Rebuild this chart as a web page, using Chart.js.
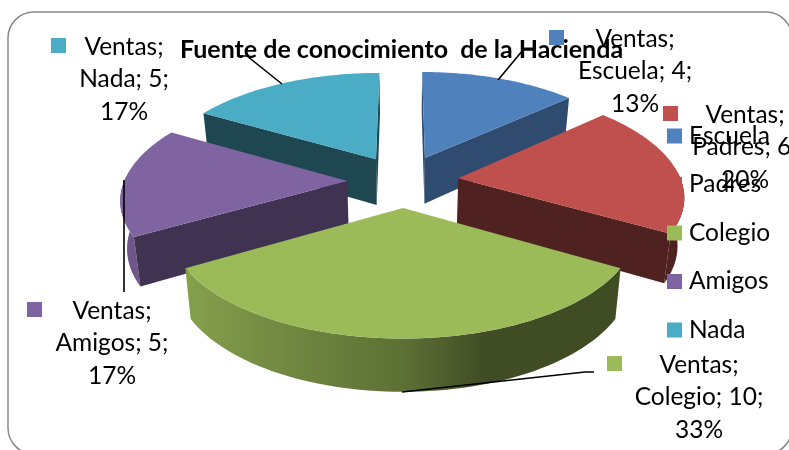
<!DOCTYPE html>
<html>
<head>
<meta charset="utf-8">
<title>Fuente de conocimiento de la Hacienda</title>
<script src="https://cdn.jsdelivr.net/npm/chart.js@4"></script>
<style>
  html, body { margin: 0; padding: 0; background: #fff; overflow: hidden; }
  canvas { display: block; }
</style>
</head>
<body>
<canvas id="chart" width="789" height="450"></canvas>
<script>
const seriesName = "Ventas";
const chartTitle = "Fuente de conocimiento  de la Hacienda";
const categories = ["Escuela", "Padres", "Colegio", "Amigos", "Nada"];
const values = [4, 6, 10, 5, 5];
const colors = ["#4F81BD", "#C0504D", "#9BBB59", "#8064A2", "#4BACC6"];
const wallShade = [0.59, 0.41, 0.41, 0.5, 0.41];

const FONT = "Lato, Carlito, sans-serif";

// projection of the pie disc onto the page (Excel style perspective)
const view = { cx: 403, cy: 181, ax: 223, ay: 104, kx: 0.15, ky: 0.14, explode: 0.25 };

function project(u, v) {
  return {
    x: view.cx + view.ax * u / (1 - view.kx * v),
    y: view.cy + view.ay * v / (1 - view.ky * v)
  };
}

// same point on the bottom of the slab
function drop(p, v) {
  return { x: view.cx + (p.x - view.cx) * 0.976, y: p.y + 47 + 5 * v };
}

function shade(hex, f) {
  const n = parseInt(hex.slice(1), 16);
  const c = [n >> 16, (n >> 8) & 255, n & 255].map(function (a) { return Math.round(a * f); });
  return "rgb(" + c.join(",") + ")";
}

// outer wall is lit from the left
function wallLight(u) {
  if (u < -0.87) return 0.86;
  if (u < 0) return 0.86 - (u + 0.87) / 0.87 * 0.26;
  if (u < 0.3) return 0.6 - u / 0.3 * 0.19;
  return 0.41;
}

function quad(ctx, a, b, c, d, color) {
  ctx.fillStyle = color;
  ctx.beginPath();
  ctx.moveTo(a.x, a.y);
  ctx.lineTo(b.x, b.y);
  ctx.lineTo(c.x, c.y);
  ctx.lineTo(d.x, d.y);
  ctx.closePath();
  ctx.fill();
}

function drawSlice(ctx, arc, i) {
  const color = colors[i];
  // chart.js angles start at 3 o'clock, ours are clockwise from the top
  const a0 = arc.startAngle + Math.PI / 2;
  const a1 = arc.endAngle + Math.PI / 2;
  const mid = (a0 + a1) / 2;
  const ou = view.explode * Math.sin(mid);
  const ov = -view.explode * Math.cos(mid);
  const steps = 64;
  const rim = [];
  for (let s = 0; s <= steps; s++) {
    const t = a0 + (a1 - a0) * s / steps;
    const r = { u: ou + Math.sin(t), v: ov - Math.cos(t), nu: Math.sin(t), nv: -Math.cos(t) };
    r.p = project(r.u, r.v);
    r.b = drop(r.p, r.v);
    rim.push(r);
  }
  const pApex = project(ou, ov);
  const bApex = drop(pApex, ov);

  // curved outer wall, one polygon so the gradient has no seams
  const front = rim.filter(function (r) { return r.nv >= -0.05; });
  if (front.length > 1) {
    const xs = front.map(function (r) { return r.p.x; });
    const x0 = Math.min.apply(null, xs), x1 = Math.max.apply(null, xs);
    const grad = ctx.createLinearGradient(x0, 0, x1, 0);
    front.forEach(function (r) {
      grad.addColorStop((r.p.x - x0) / (x1 - x0), shade(color, wallLight(r.nu)));
    });
    ctx.fillStyle = grad;
    ctx.beginPath();
    front.forEach(function (r, n) { n ? ctx.lineTo(r.p.x, r.p.y) : ctx.moveTo(r.p.x, r.p.y); });
    front.slice().reverse().forEach(function (r) { ctx.lineTo(r.b.x, r.b.y); });
    ctx.closePath();
    ctx.fill();
  }

  // flat cut walls, only the ones facing the viewer
  const first = rim[0], last = rim[steps];
  if (-Math.sin(a0) > -0.01) quad(ctx, pApex, first.p, first.b, bApex, shade(color, wallShade[i]));
  if (Math.sin(a1) > -0.01) quad(ctx, pApex, last.p, last.b, bApex, shade(color, wallShade[i]));

  ctx.fillStyle = color;
  ctx.beginPath();
  ctx.moveTo(pApex.x, pApex.y);
  rim.forEach(function (r) { ctx.lineTo(r.p.x, r.p.y); });
  ctx.closePath();
  ctx.fill();
}

const pie3d = {
  id: "pie3d",
  beforeDraw(chart) {
    const ctx = chart.ctx;
    ctx.save();
    ctx.strokeStyle = "#8a8a8a";
    ctx.lineWidth = 1.5;
    ctx.beginPath();
    ctx.roundRect(8, 12, 784, 442, 26);
    ctx.stroke();
    ctx.restore();
  },
  beforeDatasetDraw(chart, args) {
    const ctx = chart.ctx;
    const meta = chart.getDatasetMeta(args.index);
    const order = [4, 0, 3, 1, 2]; // back to front
    ctx.save();
    order.forEach(function (i) {
      drawSlice(ctx, meta.data[i], i);
    });
    ctx.restore();
    return false; // flat arcs are replaced by the slab above
  },
  afterDatasetsDraw(chart, args, opts) {
    const ctx = chart.ctx;
    const total = values.reduce(function (s, x) { return s + x; }, 0);
    ctx.save();

    ctx.strokeStyle = "#000";
    ctx.lineWidth = 1.6;
    opts.leaders.forEach(function (pts) {
      ctx.beginPath();
      pts.forEach(function (p, i) { i ? ctx.lineTo(p[0], p[1]) : ctx.moveTo(p[0], p[1]); });
      ctx.stroke();
    });

    ctx.font = opts.fontSize + "px " + FONT;
    ctx.textBaseline = "middle";

    // legend
    ctx.textAlign = "left";
    categories.forEach(function (name, i) {
      const y = opts.legend.y + i * opts.legend.step;
      ctx.fillStyle = colors[i];
      ctx.fillRect(opts.legend.x, y - 7.5, 15, 15);
      ctx.fillStyle = "#000";
      ctx.fillText(name, opts.legend.x + 22, y);
    });

    // data labels
    ctx.textAlign = "center";
    categories.forEach(function (name, i) {
      const pos = opts.labels[i];
      ctx.fillStyle = colors[i];
      ctx.fillRect(pos.keyX, pos.keyY, 15, 15);
      ctx.fillStyle = "#000";
      const pct = Math.round(values[i] / total * 100) + "%";
      [seriesName + ";", name + "; " + values[i] + ";", pct].forEach(function (line, j) {
        ctx.fillText(line, pos.x, pos.y + j * 32.5);
      });
    });
    ctx.restore();
  }
};

new Chart(document.getElementById("chart"), {
  type: "pie",
  data: {
    labels: categories,
    datasets: [{ label: seriesName, data: values, backgroundColor: colors }]
  },
  options: {
    responsive: false,
    animation: false,
    layout: { padding: { left: 14, top: 35 } },
    plugins: {
      legend: { display: false },
      tooltip: { enabled: false },
      title: {
        display: true,
        text: chartTitle,
        color: "#000",
        font: { family: FONT, size: 25, weight: "bold" },
        padding: 0
      },
      pie3d: {
        fontSize: 24.5,
        legend: { x: 667, y: 136, step: 48.5 },
        labels: [
          { x: 635, y: 39, keyX: 549, keyY: 30 },
          { x: 745, y: 115, keyX: 663, keyY: 106 },
          { x: 699, y: 365, keyX: 607, keyY: 356 },
          { x: 112, y: 311, keyX: 27, keyY: 302 },
          { x: 124, y: 47, keyX: 51, keyY: 38 }
        ],
        leaders: [
          [[498, 80], [523, 50], [533, 50]],
          [[402, 392], [585, 372], [594, 372]],
          [[124, 180], [124, 292]],
          [[282, 84], [247, 56], [237, 56]]
        ]
      }
    }
  },
  plugins: [pie3d]
});
</script>
</body>
</html>
